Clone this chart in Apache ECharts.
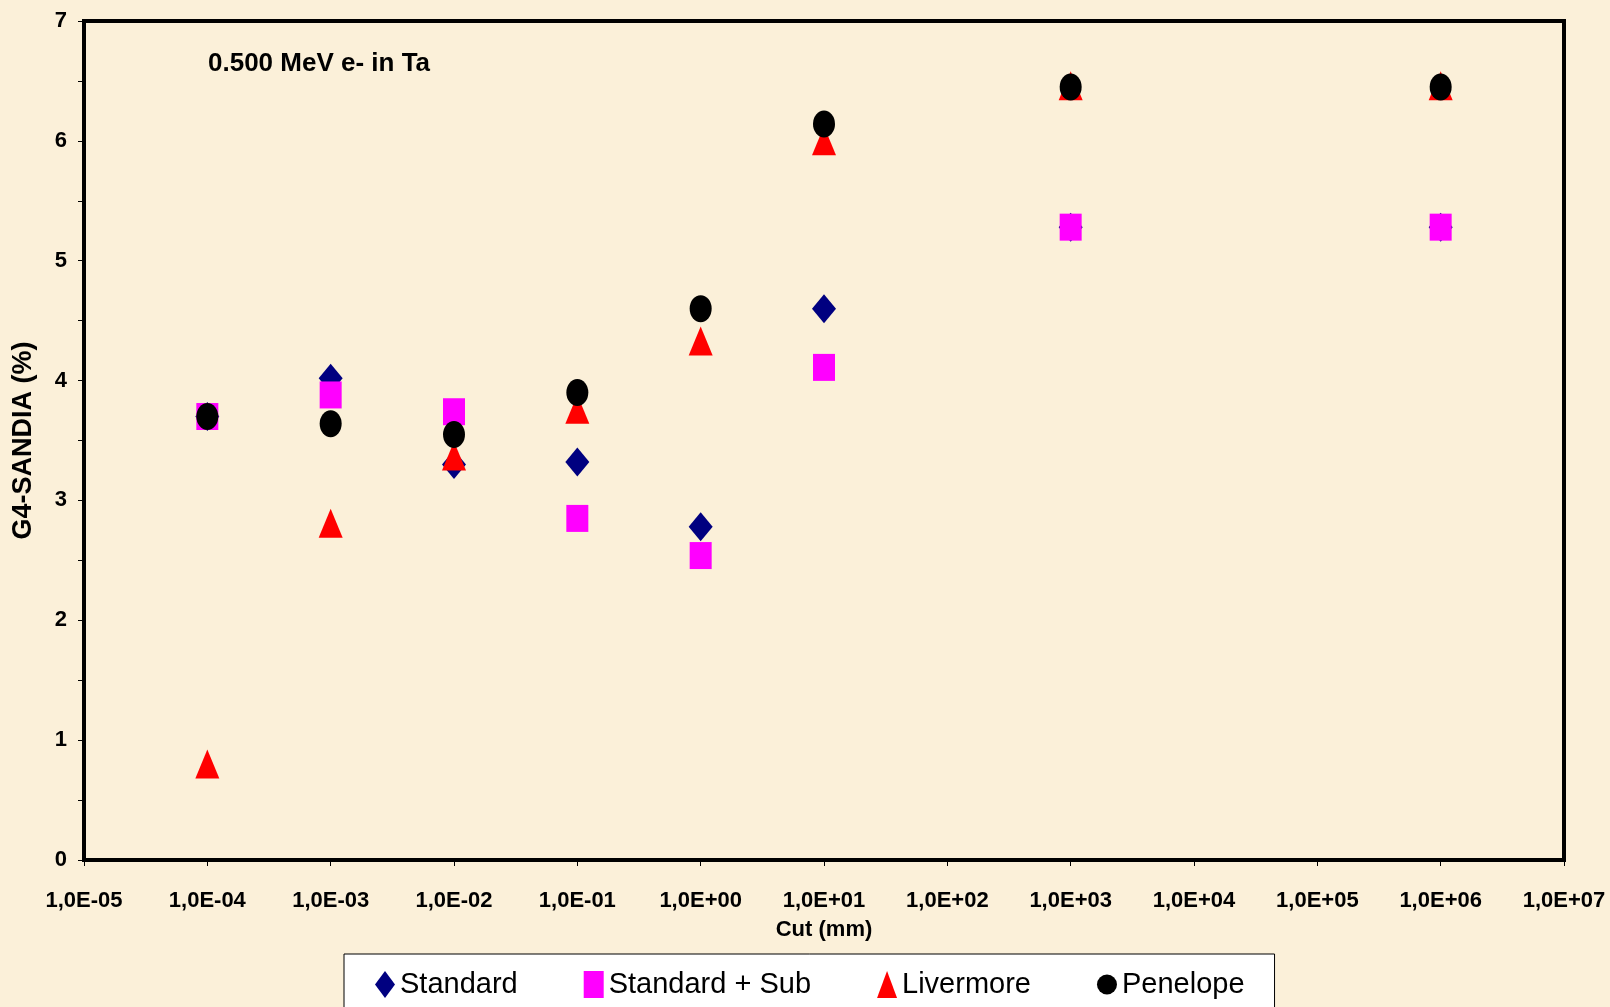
<!DOCTYPE html>
<html>
<head>
<meta charset="utf-8">
<script src="https://cdn.jsdelivr.net/npm/echarts@6/dist/echarts.min.js"></script>
<style>
html,body{margin:0;padding:0;background:#FBF0D9;}
#chart{width:1610px;height:1007px;}
</style>
</head>
<body>
<div id="chart"></div>
<script>
// ---- data ----
var cuts = [1e-4, 1e-3, 1e-2, 1e-1, 1e0, 1e1, 1e3, 1e6];
var standard    = [3.70, 4.02, 3.30, 3.32, 2.78, 4.60, 5.28, 5.28];
var standardSub = [3.70, 3.88, 3.74, 2.85, 2.54, 4.11, 5.28, 5.28];
var livermore   = [0.80, 2.81, 3.37, 3.76, 4.33, 6.00, 6.46, 6.46];
var penelope    = [3.70, 3.64, 3.55, 3.90, 4.60, 6.14, 6.45, 6.45];
var seriesNames = ['Standard', 'Standard + Sub', 'Livermore', 'Penelope'];
var xTickLabels = ['1,0E-05','1,0E-04','1,0E-03','1,0E-02','1,0E-01','1,0E+00','1,0E+01','1,0E+02','1,0E+03','1,0E+04','1,0E+05','1,0E+06','1,0E+07'];
var yTickLabels = ['0','1','2','3','4','5','6','7'];
var titleText = '0.500 MeV e- in Ta';
var xName = 'Cut (mm)';
var yName = 'G4-SANDIA (%)';

function pairs(ys){ return cuts.map(function(c,i){ return [c, ys[i]]; }); }

var font = "'Liberation Sans',Arial,sans-serif";

var chart = echarts.init(document.getElementById('chart'), null, {renderer:'canvas'});
chart.setOption({
  backgroundColor: '#FBF0D9',
  animation: false,
  title: {
    text: titleText, left: 208, top: 51, padding: 0,
    textStyle: {fontFamily: font, fontWeight: 'bold', fontSize: 26, color: '#000'}
  },
  grid: {
    left: 84, right: 46, top: 21, bottom: 147,
    containLabel: false, outerBoundsMode: 'none',
    show: true, borderColor: '#000', borderWidth: 4, backgroundColor: 'transparent'
  },
  legend: {
    left: 344, top: 954,
    padding: [16, 30, 30, 31],
    backgroundColor: '#fff', borderColor: '#000', borderWidth: 1,
    itemGap: 66, itemWidth: 20, itemHeight: 27,
    textStyle: {fontFamily: font, fontSize: 29, color: '#000'},
    data: seriesNames
  },
  xAxis: {
    type: 'log', logBase: 10, min: 1e-5, max: 1e7, interval: 1,
    name: xName, nameLocation: 'middle', nameGap: 59,
    nameTextStyle: {fontFamily: font, fontWeight: 'bold', fontSize: 22, color: '#000'},
    axisLine: {lineStyle: {color: '#000', width: 4}},
    axisTick: {show: true, inside: false, length: 6, lineStyle: {color: '#000', width: 1}},
    axisLabel: {
      margin: 30, fontFamily: font, fontWeight: 'bold', fontSize: 22, color: '#000',
      formatter: function(v){ var e = Math.round(Math.log10(v)); return xTickLabels[e + 5] || ''; }
    },
    splitLine: {show: false}, minorTick: {show: false}
  },
  yAxis: {
    type: 'value', min: 0, max: 7, interval: 1,
    name: yName, nameLocation: 'middle', nameGap: 47, nameRotate: 90,
    nameTextStyle: {fontFamily: font, fontWeight: 'bold', fontSize: 27, color: '#000'},
    axisLine: {show: true, lineStyle: {color: '#000', width: 4}},
    axisTick: {show: true, inside: false, length: 6, lineStyle: {color: '#000', width: 1}},
    minorTick: {show: true, splitNumber: 2, length: 6, lineStyle: {color: '#000', width: 1}},
    axisLabel: {
      margin: 17, fontFamily: font, fontWeight: 'bold', fontSize: 22, color: '#000',
      formatter: function(v){ return yTickLabels[Math.round(v)]; }
    },
    splitLine: {show: false}
  },
  series: [
    {name: seriesNames[0], type: 'scatter', data: pairs(standard), symbol: 'diamond', symbolSize: [24, 29], itemStyle: {color: '#000080', opacity: 1}, z: 2},
    {name: seriesNames[1], type: 'scatter', data: pairs(standardSub), symbol: 'rect', symbolSize: [22, 27], itemStyle: {color: '#FF00FF', opacity: 1}, z: 3},
    {name: seriesNames[2], type: 'scatter', data: pairs(livermore), symbol: 'triangle', symbolSize: [24, 29], itemStyle: {color: '#FF0000', opacity: 1}, z: 4},
    {name: seriesNames[3], type: 'scatter', data: pairs(penelope), symbol: 'circle', symbolSize: [22, 27], itemStyle: {color: '#000000', opacity: 1}, z: 5}
  ]
});
</script>
</body>
</html>
